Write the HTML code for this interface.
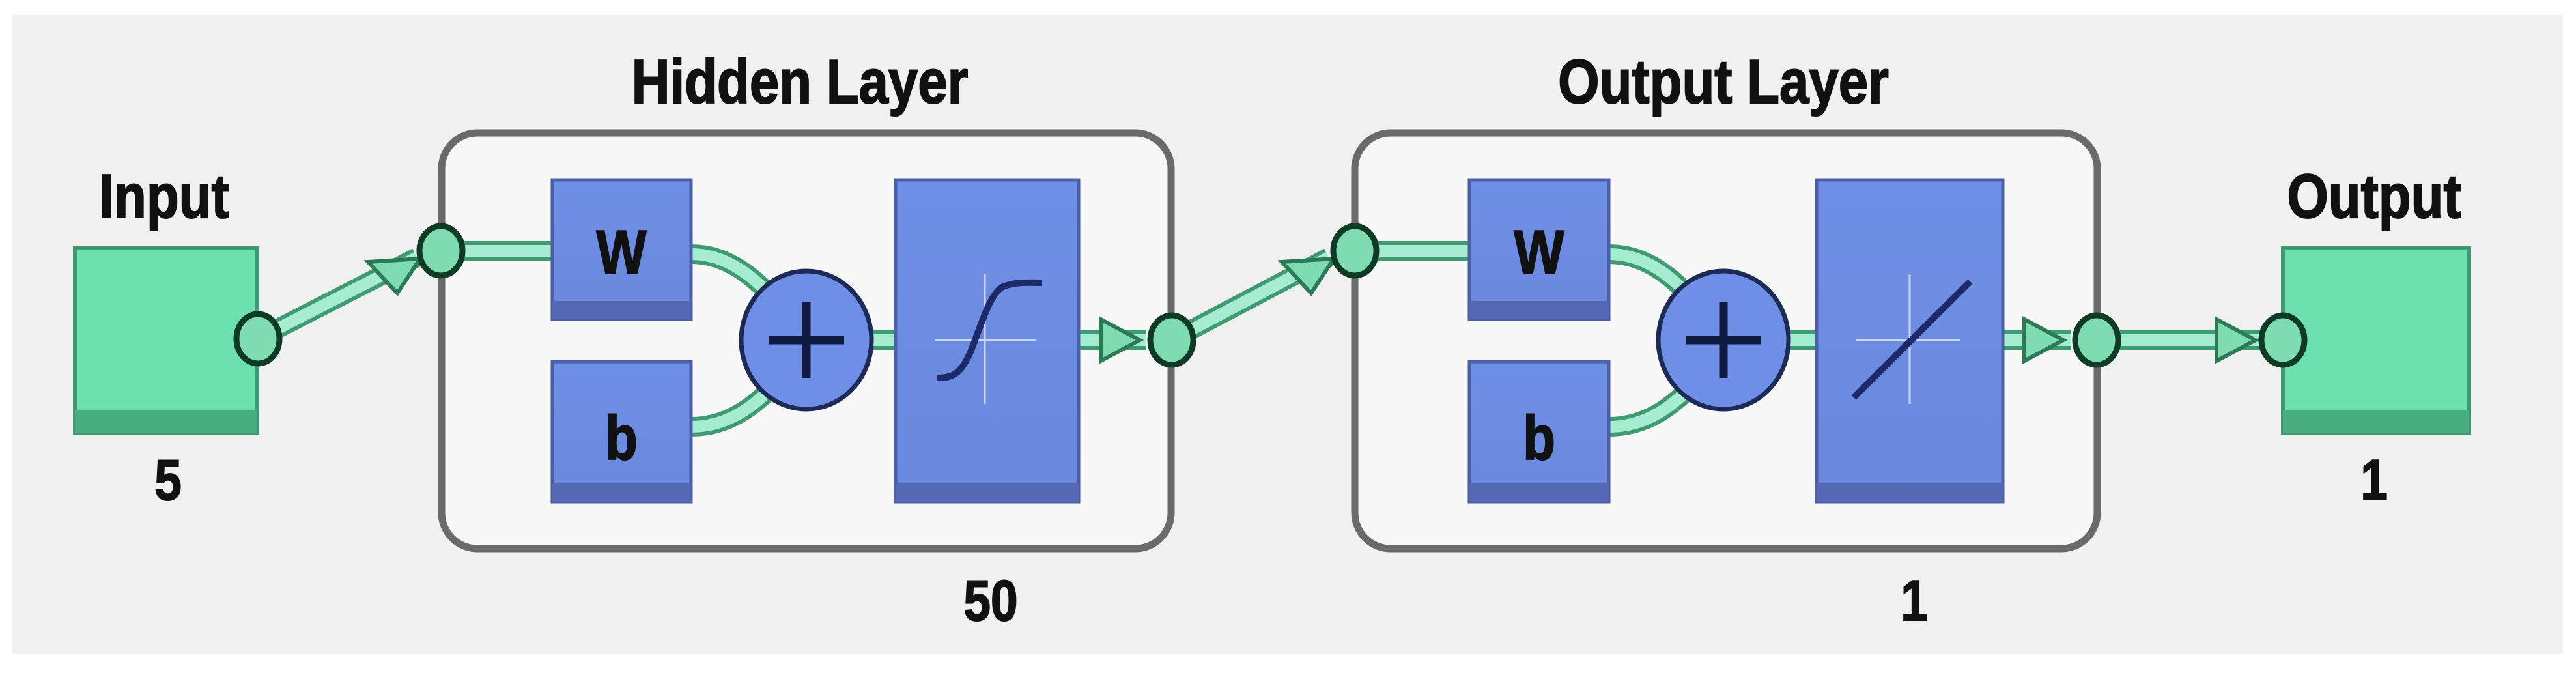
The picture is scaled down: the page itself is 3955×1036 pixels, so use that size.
<!DOCTYPE html>
<html><head><meta charset="utf-8"><style>
html,body{margin:0;padding:0;background:#fff;}
svg{display:block}
text{font-family:"Liberation Sans",sans-serif;font-weight:bold;fill:#111;stroke:#111;stroke-width:2;}
</style></head><body>
<svg width="3955" height="1036" viewBox="0 0 3955 1036" xmlns="http://www.w3.org/2000/svg">
<defs>
<linearGradient id="bl" x1="0" y1="0" x2="0" y2="1">
<stop offset="0" stop-color="#6f8fe6"/><stop offset="1" stop-color="#6a88dc"/></linearGradient>
<g id="node"><ellipse cx="0" cy="0" rx="33" ry="38" fill="#7fdcb2" stroke="#0f3a26" stroke-width="9"/></g>
<g id="arrR"><polygon points="-32,-32 28,0 -32,32" fill="#7fdcb2" stroke="#2c7a55" stroke-width="6"/></g>
</defs>
<rect x="0" y="0" width="3955" height="1036" fill="#fff"/>
<rect x="19" y="23" width="3916" height="981" fill="#f0f0f0"/>

<text x="252" y="334" font-size="96" text-anchor="middle" transform="translate(252,0) scale(0.85,1) translate(-252,0)">Input</text>
<text x="258" y="767" font-size="88" text-anchor="middle" transform="translate(258,0) scale(0.85,1) translate(-258,0)">5</text>
<text x="1228" y="158" font-size="96" text-anchor="middle" transform="translate(1228,0) scale(0.85,1) translate(-1228,0)">Hidden Layer</text>
<text x="1521" y="952" font-size="88" text-anchor="middle" transform="translate(1521,0) scale(0.85,1) translate(-1521,0)">50</text>
<text x="2646" y="158" font-size="96" text-anchor="middle" transform="translate(2646,0) scale(0.85,1) translate(-2646,0)">Output Layer</text>
<text x="2939" y="952" font-size="88" text-anchor="middle" transform="translate(2939,0) scale(0.85,1) translate(-2939,0)">1</text>
<text x="3645" y="334" font-size="96" text-anchor="middle" transform="translate(3645,0) scale(0.85,1) translate(-3645,0)">Output</text>
<text x="3645" y="767" font-size="88" text-anchor="middle" transform="translate(3645,0) scale(0.85,1) translate(-3645,0)">1</text>

<rect x="678" y="204" width="1120" height="638" rx="55" fill="#f7f7f7" stroke="#6a6a6a" stroke-width="11"/>
<rect x="2080" y="204" width="1140" height="638" rx="55" fill="#f7f7f7" stroke="#6a6a6a" stroke-width="11"/>

<rect x="115" y="380" width="280" height="284" fill="#6ee0b0" stroke="#3f9a72" stroke-width="6"/>
<rect x="115" y="630" width="280" height="34" fill="#48ad80"/>
<rect x="3505" y="380" width="286" height="284" fill="#6ee0b0" stroke="#3f9a72" stroke-width="6"/>
<rect x="3505" y="630" width="286" height="34" fill="#48ad80"/>

<g fill="none" stroke-linecap="butt">
<g stroke="#3f9a72" stroke-width="30">
<path d="M396,520 L640,395"/><path d="M677,385 H850"/>
<path d="M1061,390 C1120,390 1160,430 1185,455"/><path d="M1061,655 C1120,655 1160,620 1185,595"/>
<path d="M1340,522 H1378"/><path d="M1656,522 H1760"/>
<path d="M1799,522 L2040,395"/><path d="M2080,385 H2258"/>
<path d="M2470,390 C2530,390 2570,430 2595,455"/><path d="M2470,655 C2530,655 2570,620 2595,595"/>
<path d="M2748,522 H2790"/><path d="M3075,522 H3180"/>
<path d="M3219,522 H3470"/>
</g>
<g stroke="#a6ecd0" stroke-width="18">
<path d="M396,520 L640,395"/><path d="M677,385 H850"/>
<path d="M1061,390 C1120,390 1160,430 1185,455"/><path d="M1061,655 C1120,655 1160,620 1185,595"/>
<path d="M1340,522 H1378"/><path d="M1656,522 H1760"/>
<path d="M1799,522 L2040,395"/><path d="M2080,385 H2258"/>
<path d="M2470,390 C2530,390 2570,430 2595,455"/><path d="M2470,655 C2530,655 2570,620 2595,595"/>
<path d="M2748,522 H2790"/><path d="M3075,522 H3180"/>
<path d="M3219,522 H3470"/>
</g>
</g>
<polygon points="565,402 645,397 610,450" fill="#7fdcb2" stroke="#2c7a55" stroke-width="6"/>
<polygon points="1968,402 2048,397 2013,450" fill="#7fdcb2" stroke="#2c7a55" stroke-width="6"/>
<use href="#arrR" x="1722" y="522"/>
<use href="#arrR" x="3140" y="522"/>
<use href="#arrR" x="3435" y="522"/>

<rect x="848" y="276" width="213" height="214" fill="url(#bl)" stroke="#4b5fa8" stroke-width="5"/>
<rect x="848" y="462" width="213" height="28" fill="#5468b4"/>
<text x="954" y="420" font-size="96" text-anchor="middle" transform="translate(954,0) scale(0.85,1) translate(-954,0)">W</text>
<rect x="848" y="555" width="213" height="215" fill="url(#bl)" stroke="#4b5fa8" stroke-width="5"/>
<rect x="848" y="742" width="213" height="28" fill="#5468b4"/>
<text x="954" y="705" font-size="96" text-anchor="middle" transform="translate(954,0) scale(0.85,1) translate(-954,0)">b</text>
<ellipse cx="1238" cy="522" rx="100" ry="106" fill="#6f8fe6" stroke="#1c2a55" stroke-width="7"/>
<path d="M1180,522 H1296 M1238,464 V580" stroke="#0f1a40" stroke-width="13"/>
<rect x="1375" y="276" width="281" height="494" fill="url(#bl)" stroke="#4b5fa8" stroke-width="5"/>
<rect x="1375" y="742" width="281" height="28" fill="#5468b4"/>
<path d="M1435,522 H1590 M1512,420 V620" stroke="#c8d4f8" stroke-width="3"/>
<path d="M1438,580 C1462,580 1475,575 1490,540 C1508,495 1520,450 1540,440 C1560,432 1580,434 1600,434" fill="none" stroke="#1c2a6a" stroke-width="10"/>

<rect x="2256" y="276" width="214" height="214" fill="url(#bl)" stroke="#4b5fa8" stroke-width="5"/>
<rect x="2256" y="462" width="214" height="28" fill="#5468b4"/>
<text x="2363" y="420" font-size="96" text-anchor="middle" transform="translate(2363,0) scale(0.85,1) translate(-2363,0)">W</text>
<rect x="2256" y="555" width="214" height="215" fill="url(#bl)" stroke="#4b5fa8" stroke-width="5"/>
<rect x="2256" y="742" width="214" height="28" fill="#5468b4"/>
<text x="2363" y="705" font-size="96" text-anchor="middle" transform="translate(2363,0) scale(0.85,1) translate(-2363,0)">b</text>
<ellipse cx="2646" cy="522" rx="100" ry="106" fill="#6f8fe6" stroke="#1c2a55" stroke-width="7"/>
<path d="M2588,522 H2704 M2646,464 V580" stroke="#0f1a40" stroke-width="13"/>
<rect x="2789" y="276" width="286" height="494" fill="url(#bl)" stroke="#4b5fa8" stroke-width="5"/>
<rect x="2789" y="742" width="286" height="28" fill="#5468b4"/>
<path d="M2850,522 H3010 M2932,420 V620" stroke="#c8d4f8" stroke-width="3"/>
<path d="M2846,610 L3025,432" stroke="#1c2a6a" stroke-width="10"/>

<use href="#node" x="396" y="520"/>
<use href="#node" x="677" y="385"/>
<use href="#node" x="1799" y="522"/>
<use href="#node" x="2080" y="385"/>
<use href="#node" x="3219" y="522"/>
<use href="#node" x="3505" y="522"/>
</svg>
</body></html>
